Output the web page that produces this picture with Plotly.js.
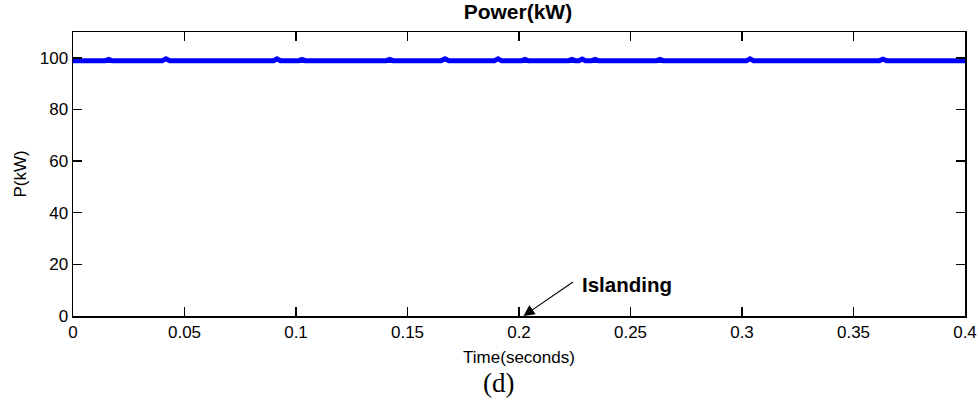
<!DOCTYPE html>
<html>
<head>
<meta charset="utf-8">
<script src="https://cdn.plot.ly/plotly-3.0.1.min.js"></script>
<style>html,body{margin:0;padding:0;background:#fff;}#chart{width:979px;height:408px;}</style>
</head>
<body>
<div id="chart"></div>
<script>
// Time (s) and power (kW)
var timeSec = [0, 0.0145, 0.016, 0.0175, 0.040, 0.0417, 0.0434, 0.0655, 0.0668, 0.0681,
  0.090, 0.0915, 0.093, 0.1013, 0.1027, 0.1041, 0.1147, 0.1157, 0.1167,
  0.1405, 0.142, 0.1435, 0.165, 0.1668, 0.1686, 0.189, 0.1906, 0.1922,
  0.2013, 0.2027, 0.2041, 0.2222, 0.2237, 0.2252, 0.2268, 0.2283, 0.2298,
  0.2326, 0.2341, 0.2356, 0.2617, 0.2632, 0.2647, 0.302, 0.3036, 0.3052,
  0.328, 0.329, 0.33, 0.3616, 0.3632, 0.3648, 0.4];
var powerKW = [98.9, 98.9, 99.4, 98.9, 98.9, 99.6, 98.9, 98.9, 99.2, 98.9,
  98.9, 99.6, 98.9, 98.9, 99.4, 98.9, 98.9, 99.15, 98.9,
  98.9, 99.4, 98.9, 98.9, 99.6, 98.9, 98.9, 99.6, 98.9,
  98.9, 99.4, 98.9, 98.9, 99.4, 98.9, 98.9, 99.5, 98.9,
  98.9, 99.4, 98.9, 98.9, 99.4, 98.9, 98.9, 99.6, 98.9,
  98.9, 99.15, 98.9, 98.9, 99.5, 98.9, 98.9];
var xTicks = [0, 0.05, 0.1, 0.15, 0.2, 0.25, 0.3, 0.35, 0.4];
var xTickText = ['0', '0.05', '0.1', '0.15', '0.2', '0.25', '0.3', '0.35', '0.4'];
var yTicks = [0, 20, 40, 60, 80, 100];
var yTickText = ['0', '20', '40', '60', '80', '100'];
var islandTime = 0.202;
var islandPower = 0;

var font = 'Liberation Sans, Arial, sans-serif';
var trace = {
  x: timeSec, y: powerKW, type: 'scatter', mode: 'lines',
  line: {color: '#0000ff', width: 5}, hoverinfo: 'skip'
};
var axisCommon = {
  showgrid: false, zeroline: false, showline: true, linecolor: '#000', linewidth: 1.5,
  mirror: 'allticks', ticks: 'inside', ticklen: 9, tickwidth: 1.5, tickcolor: '#000',
  tickfont: {family: font, size: 17, color: '#000'}
};
var layout = {
  width: 979, height: 408,
  margin: {l: 73, r: 14, t: 32, b: 92},
  paper_bgcolor: '#fff', plot_bgcolor: '#fff',
  showlegend: false,
  title: {text: '<b>Power(kW)</b>', font: {family: font, size: 21, color: '#000'},
          x: 0.529, xanchor: 'center', y: 0.972, yanchor: 'middle', yref: 'container'},
  xaxis: Object.assign({}, axisCommon, {
    range: [0, 0.4], tickmode: 'array', tickvals: xTicks, ticktext: xTickText,
    title: {text: 'Time(seconds)', font: {family: font, size: 17, color: '#000'}, standoff: 10}
  }),
  yaxis: Object.assign({}, axisCommon, {
    range: [0, 110], tickmode: 'array', tickvals: yTicks, ticktext: yTickText,
    title: {text: 'P(kW)', font: {family: font, size: 17, color: '#000'}, standoff: 9}
  }),
  annotations: [
    {x: islandTime, y: islandPower, xref: 'x', yref: 'y', text: '', showarrow: true,
     ax: 51, ay: -35, arrowhead: 2, arrowsize: 2, arrowwidth: 1.1, arrowcolor: '#000'},
    {x: islandTime, y: islandPower, xref: 'x', yref: 'y', text: '<b>Islanding</b>',
     showarrow: false, xanchor: 'left', yanchor: 'middle', xshift: 57, yshift: 32,
     font: {family: font, size: 20.5, color: '#000'}},
    {x: 0.4775, y: -0.21, xref: 'paper', yref: 'paper', yanchor: 'middle', xanchor: 'center',
     text: '(d)', showarrow: false, yshift: -7,
     font: {family: 'Liberation Serif, Times New Roman, serif', size: 27, color: '#000'}}
  ]
};
Plotly.newPlot('chart', [trace], layout, {staticPlot: true, displayModeBar: false});
</script>
</body>
</html>
